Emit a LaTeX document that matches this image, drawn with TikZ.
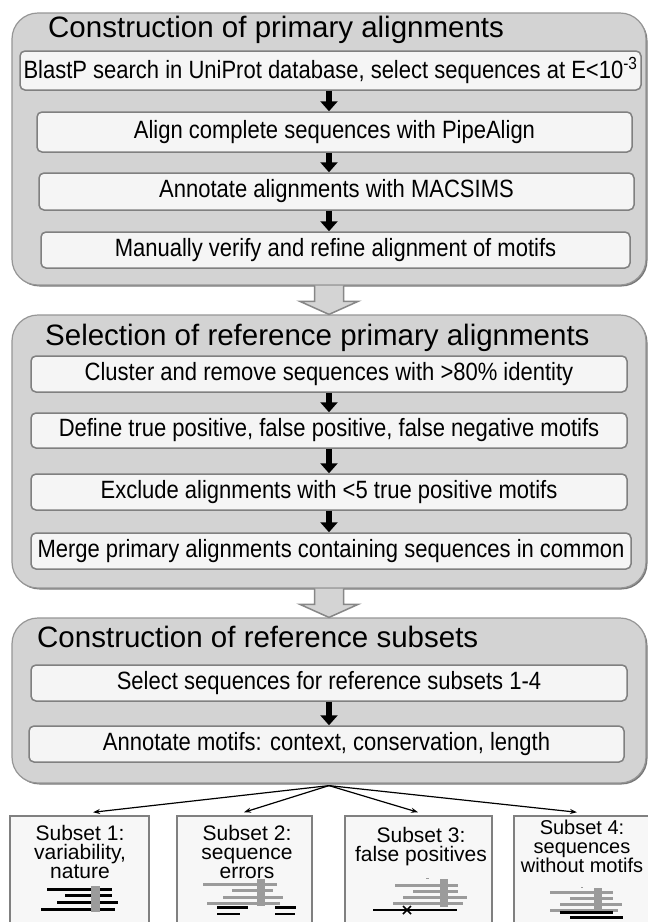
\documentclass[tikz,border=0pt]{standalone}
\usepackage{fontspec}
\setmainfont{Liberation Sans}
\usetikzlibrary{calc,arrows.meta,shadows}
\definecolor{panelfill}{RGB}{211,211,211}
\definecolor{paneledge}{RGB}{150,150,150}
\definecolor{panelshadow}{RGB}{120,120,120}
\definecolor{boxfill}{RGB}{245,245,245}
\definecolor{boxedge}{RGB}{128,128,128}
\definecolor{subfill}{RGB}{247,247,247}
\definecolor{glyphgray}{RGB}{155,155,155}
\definecolor{garrowfill}{RGB}{212,212,212}
\definecolor{garrowedge}{RGB}{135,135,135}
\newcommand{\nw}[1]{\scalebox{0.88}[1]{#1}}
\begin{document}
\begin{tikzpicture}[x=1pt,y=-1pt,
  panel/.style={draw=paneledge, line width=1.2pt, fill=panelfill, rounded corners=26pt, inner sep=0pt,
    drop shadow={shadow xshift=1.5pt, shadow yshift=-1.5pt, fill=panelshadow, opacity=1}},
  stepbox/.style={draw=boxedge, line width=1.5pt, fill=boxfill, rounded corners=5pt, inner sep=0pt,
    font=\fontsize{25}{28}\selectfont},
  ptitle/.style={anchor=base west, inner sep=0pt, font=\fontsize{29.5}{32}\selectfont},
  blk/.style={line width=6pt, -{Triangle[width=17pt,length=10pt]}},
  gfill/.style={fill=garrowfill},
  gedge/.style={draw=garrowedge, line width=1.5pt, line join=miter},
  fan/.style={line width=1.2pt, -{Stealth[length=7pt,width=5pt]}},
  subbox/.style={draw=boxedge, line width=1.5pt, fill=subfill, inner sep=0pt},
  subtext/.style={anchor=north, inner sep=0pt, align=center, font=\fontsize{21}{19}\selectfont},
  bline/.style={line width=3pt, black},
  gline/.style={line width=3pt, glyphgray},
  gbar/.style={line width=9pt, glyphgray}
]
\clip (0,0) rectangle (648,922);
\fill[white] (0,0) rectangle (648,922);

% ---------- panel 1 ----------
\node[panel, minimum width=634pt, minimum height=272pt] (P1) at (329,149) {};
\node[ptitle] (T1) at (48,37) {Construction of primary alignments};
\node[stepbox, minimum width=621pt, minimum height=39pt] (A1) at (330.5,70.5)
  {\nw{BlastP search in UniProt database, select sequences at E<10\textsuperscript{-3}}};
\node[stepbox, minimum width=595pt, minimum height=40pt] (A2) at (334.5,132)
  {\nw{Align complete sequences with PipeAlign}};
\node[stepbox, minimum width=595pt, minimum height=37pt] (A3) at (336.5,191.5)
  {\nw{Annotate alignments with MACSIMS}};
\node[stepbox, minimum width=589pt, minimum height=36pt] (A4) at (335.5,250)
  {\nw{Manually verify and refine alignment of motifs}};
\draw[blk] (A1.south -| P1.center) -- (A2.north -| P1.center);
\draw[blk] (A2.south -| P1.center) -- (A3.north -| P1.center);
\draw[blk] (A3.south -| P1.center) -- (A4.north -| P1.center);

% ---------- panel 2 ----------
\node[panel, minimum width=634pt, minimum height=273pt] (P2) at (329,451.5) {};
\node[ptitle] (T2) at (45,345) {Selection of reference primary alignments};
\node[stepbox, minimum width=596pt, minimum height=36pt] (B1) at (329,374)
  {\nw{Cluster and remove sequences with >80\% identity}};
\node[stepbox, minimum width=596pt, minimum height=35pt] (B2) at (329,430.5)
  {\nw{Define true positive, false positive, false negative motifs}};
\node[stepbox, minimum width=596pt, minimum height=36pt] (B3) at (329,492)
  {\nw{Exclude alignments with <5 true positive motifs}};
\node[stepbox, minimum width=600pt, minimum height=36pt] (B4) at (331,551)
  {\nw{Merge primary alignments containing sequences in common}};
\draw[blk] (B1.south -| P2.center) -- (B2.north -| P2.center);
\draw[blk] (B2.south -| P2.center) -- (B3.north -| P2.center);
\draw[blk] (B3.south -| P2.center) -- (B4.north -| P2.center);

% ---------- panel 3 ----------
\node[panel, minimum width=634pt, minimum height=165pt] (P3) at (329,700.5) {};
\node[ptitle] (T3) at (37,647) {Construction of reference subsets};
\node[stepbox, minimum width=596pt, minimum height=36pt] (C1) at (329,683)
  {\nw{Select sequences for reference subsets 1-4}};
\node[stepbox, minimum width=595pt, minimum height=36pt] (C2) at (326.5,744)
  {\nw{Annotate motifs: context, conservation, length}};
\draw[blk] (C1.south -| P3.center) -- (C2.north -| P3.center);

% ---------- big gray arrows ----------
\fill[gfill] ($(P1.south)+(-14.5,0)$) -- ($(P2.north)+(-14.5,-13)$) -- ($(P2.north)+(-29,-13)$) -- (P2.north)
  -- ($(P2.north)+(29,-13)$) -- ($(P2.north)+(14.5,-13)$) -- ($(P1.south)+(14.5,0)$) -- cycle;
\draw[gedge] ($(P1.south)+(-14.5,0)$) -- ($(P2.north)+(-14.5,-13)$) -- ($(P2.north)+(-29,-13)$) -- (P2.north)
  -- ($(P2.north)+(29,-13)$) -- ($(P2.north)+(14.5,-13)$) -- ($(P1.south)+(14.5,0)$);
\fill[gfill] ($(P2.south)+(-14.5,0)$) -- ($(P3.north)+(-14.5,-13)$) -- ($(P3.north)+(-29,-13)$) -- (P3.north)
  -- ($(P3.north)+(29,-13)$) -- ($(P3.north)+(14.5,-13)$) -- ($(P2.south)+(14.5,0)$) -- cycle;
\draw[gedge] ($(P2.south)+(-14.5,0)$) -- ($(P3.north)+(-14.5,-13)$) -- ($(P3.north)+(-29,-13)$) -- (P3.north)
  -- ($(P3.north)+(29,-13)$) -- ($(P3.north)+(14.5,-13)$) -- ($(P2.south)+(14.5,0)$);

% ---------- subset boxes ----------
\node[subbox, minimum width=139pt, minimum height=124pt] (S1) at (79.5,878) {};
\node[subbox, minimum width=135pt, minimum height=124pt] (S2) at (244.5,878) {};
\node[subbox, minimum width=147pt, minimum height=124pt] (S3) at (418.5,878) {};
\node[subbox, minimum width=138pt, minimum height=124pt] (S4) at (583,878) {};

\node[subtext] (S1t) at (80,824.7) {Subset 1:\\variability,\\nature};
\node[subtext] (S2t) at (247,824.7) {Subset 2:\\sequence\\errors};
\node[subtext] (S3t) at (421,827) {Subset 3:\\false positives};
\node[subtext, font=\fontsize{20}{18.5}\selectfont] (S4t) at (582,820) {Subset 4:\\sequences\\without motifs};

\coordinate (F) at ($(P3.south)+(0,2)$);
\draw[fan] (F) -- ($(S1.north)+(13.5,-3)$);
\draw[fan] (F) -- ($(S2.north)+(-0.5,-3)$);
\draw[fan] (F) -- ($(S3.north)+(-0.5,-3)$);
\draw[fan] (F) -- ($(S4.north)+(-6,-3)$);

% ---------- glyphs ----------
% subset 1
\draw[bline] (47,889) -- (112,889);
\draw[bline] (65,895) -- (112,895);
\draw[bline] (57,902) -- (118,902);
\draw[bline] (41,909) -- (115,909);
\draw[gbar] (95,886) -- (95,912);
% subset 2
\draw[gline] (203,884) -- (277,884);
\draw[gline] (232,890) -- (273,890);
\draw[gline] (223,897) -- (283,897);
\draw[gline] (207,903) -- (280,903);
\draw[gbar, line width=8pt] (261,879) -- (261,906);
\draw[bline, line width=2.5pt] (217,907.5) -- (248,907.5);
\draw[bline, line width=2.5pt] (275,907.5) -- (296,907.5);
\draw[bline, line width=2.5pt] (217,914) -- (240,914);
\draw[bline, line width=2.5pt] (275,914) -- (295,914);
\fill[glyphgray] (244.5,876.5) rectangle (246,878);
% subset 3
\draw[gline] (395,885) -- (458,885);
\draw[gline] (413,891) -- (458,891);
\draw[gline] (403,897) -- (467,897);
\draw[gline] (393,903) -- (463,903);
\draw[gbar, line width=8pt] (443.5,879) -- (443.5,907);
\draw[bline, line width=2.5pt] (373,910) -- (457,910);
\draw[line width=1.5pt] (403,906) -- (411,914) (403,914) -- (411,906);
\fill[glyphgray] (426,877.5) rectangle (428.5,879);
% subset 4
\draw[gline] (550,892) -- (613,892);
\draw[gline] (570,898) -- (613,898);
\draw[gline] (560,904) -- (622,904);
\draw[gline] (550,910) -- (618,910);
\draw[gbar, line width=8pt] (597.5,888) -- (597.5,910);
\draw[bline, line width=2.5pt] (560,912.5) -- (613,912.5);
\draw[bline, line width=2.5pt] (570,917.5) -- (623,917.5);
\fill[glyphgray] (581,886.5) rectangle (583,888);
\end{tikzpicture}
\end{document}
